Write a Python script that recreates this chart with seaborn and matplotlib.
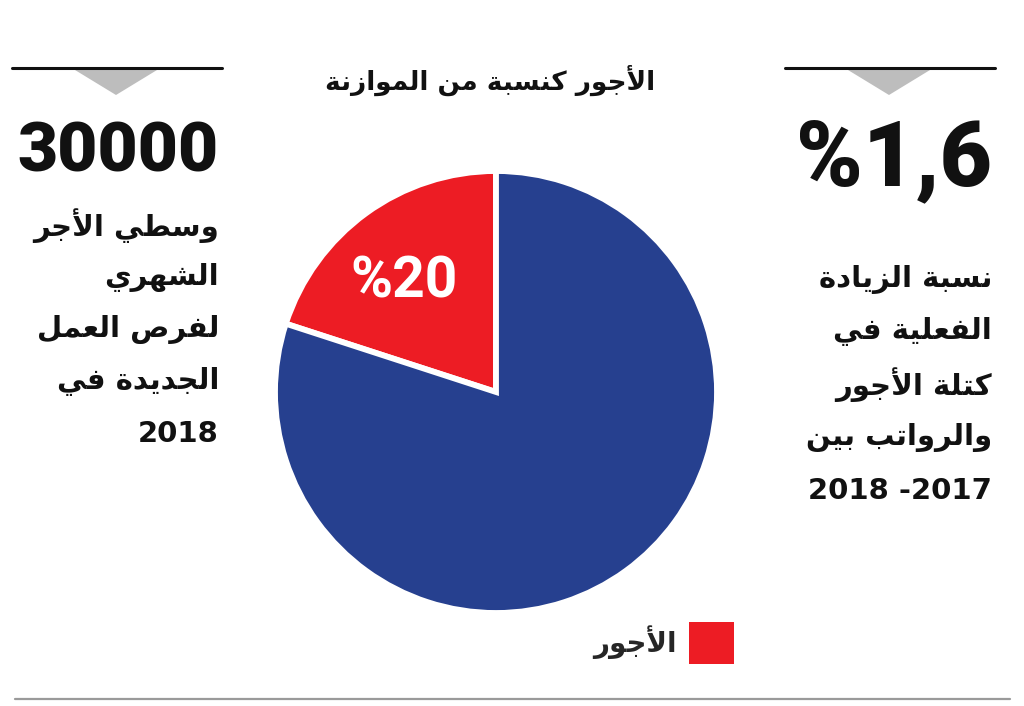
import matplotlib
matplotlib.use("Agg")
import matplotlib.pyplot as plt
import seaborn as sns
from matplotlib.lines import Line2D
from matplotlib.patches import Polygon

# ---------------- data ----------------
slice_labels = ["الأجور", "باقي الموازنة"]
slice_values = [20, 80]
slice_text = "%20"
title_text = "الأجور كنسبة من الموازنة"
left_number = "30000"
left_lines = ["وسطي الأجر", "الشهري", "لفرص العمل", "الجديدة في", "2018"]
right_number = "%1,6"
right_lines = ["نسبة الزيادة", "الفعلية في", "كتلة الأجور", "والرواتب بين", "2018 -2017"]
legend_label = "الأجور"

RED = "#ED1C24"
BLUE = "#26408F"

# ---------------- minimal Arabic shaping (presentation forms + visual order) ----------------
_seq = [("\u0621", 1), ("\u0622", 2), ("\u0623", 2), ("\u0624", 2), ("\u0625", 2),
        ("\u0626", 4), ("\u0627", 2), ("\u0628", 4), ("\u0629", 2), ("\u062A", 4),
        ("\u062B", 4), ("\u062C", 4), ("\u062D", 4), ("\u062E", 4), ("\u062F", 2),
        ("\u0630", 2), ("\u0631", 2), ("\u0632", 2), ("\u0633", 4), ("\u0634", 4),
        ("\u0635", 4), ("\u0636", 4), ("\u0637", 4), ("\u0638", 4), ("\u0639", 4),
        ("\u063A", 4), ("\u0641", 4), ("\u0642", 4), ("\u0643", 4), ("\u0644", 4),
        ("\u0645", 4), ("\u0646", 4), ("\u0647", 4), ("\u0648", 2), ("\u0649", 2),
        ("\u064A", 4)]
FORMS = {}
_c = 0xFE80
for _ch, _n in _seq:
    FORMS[_ch] = [chr(_c + i) for i in range(_n)]
    _c += _n
LAMALEF = {"\u0622": ("\uFEF5", "\uFEF6"), "\u0623": ("\uFEF7", "\uFEF8"),
           "\u0625": ("\uFEF9", "\uFEFA"), "\u0627": ("\uFEFB", "\uFEFC")}


def shape(s):
    if not any(ch in FORMS for ch in s):
        return s
    out = []
    chars = list(s)
    i = 0
    n = len(chars)

    def dual(ch):
        return ch in FORMS and len(FORMS[ch]) == 4

    while i < n:
        ch = chars[i]
        prev = chars[i - 1] if i > 0 else None
        if ch in FORMS:
            jp = prev is not None and dual(prev)
            if ch == "\u0644" and i + 1 < n and chars[i + 1] in LAMALEF:
                out.append(LAMALEF[chars[i + 1]][1 if jp else 0])
                i += 2
                continue
            nxt = chars[i + 1] if i + 1 < n else None
            jn = dual(ch) and nxt is not None and nxt in FORMS
            f = FORMS[ch]
            if jp and jn:
                out.append(f[3])
            elif jp:
                out.append(f[1])
            elif jn:
                out.append(f[2])
            else:
                out.append(f[0])
        else:
            out.append(ch)
        i += 1
    return "".join(reversed(out))


# ---------------- figure ----------------
sns.set_theme(style="white")
plt.rcParams["font.family"] = ["DejaVu Sans"]
W, H = 1024, 706
fig = plt.figure(figsize=(W / 100, H / 100), dpi=100)
fig.patch.set_facecolor("white")


def fx(px):
    return px / W


def fy(py):
    return 1 - py / H


# decorative header lines + triangles
for x0, x1, tx in [(12, 222, 116), (785, 995, 889)]:
    fig.add_artist(Line2D([fx(x0), fx(x1)], [fy(68), fy(68)], color="#111111", lw=2.2))
    fig.add_artist(Polygon([(fx(tx - 41), fy(70)), (fx(tx + 41), fy(70)), (fx(tx), fy(95))],
                           closed=True, color="#BDBDBD", lw=0))
fig.add_artist(Line2D([fx(15), fx(1010)], [fy(699), fy(699)], color="#9A9A9A", lw=1.6))

# pie
cx, cy, R = 496, 392, 221
pad = 1.1
size = 2 * R * pad
ax = fig.add_axes([fx(cx - size / 2), fy(cy + size / 2), size / W, size / H])
palette = sns.color_palette([RED, BLUE])
wedges, _ = ax.pie(slice_values, colors=palette, startangle=90, counterclock=True,
                   radius=1.0, wedgeprops=dict(edgecolor="white", linewidth=4.2))
ax.set_xlim(-pad, pad)
ax.set_ylim(-pad, pad)
ax.set_aspect("equal")
ax.axis("off")

# slice label
fig.text(fx(404), fy(282), slice_text, color="white", fontsize=41, fontweight="bold",
         family=["Roboto", "DejaVu Sans"], ha="center", va="center")

# title
fig.text(fx(490), fy(80), shape(title_text), fontsize=19, fontweight="bold",
         ha="center", va="center", color="#111111")

# left column
fig.text(fx(219), fy(153), left_number, fontsize=50, fontweight="black",
         family=["Roboto", "DejaVu Sans"], ha="right", va="center", color="#111111")
for k, t in enumerate(left_lines):
    fig.text(fx(219), fy(226 + 52 * k), shape(t), fontsize=21, fontweight="bold",
             ha="right", va="center", color="#111111")

# right column
fig.text(fx(992), fy(160), right_number, fontsize=65, fontweight="black",
         family=["Roboto", "DejaVu Sans"], ha="right", va="center", color="#111111")
for k, t in enumerate(right_lines):
    fig.text(fx(992), fy(279 + 53 * k), shape(t), fontsize=21, fontweight="bold",
             ha="right", va="center", color="#111111")

# legend
leg = fig.legend([wedges[0]], [shape(legend_label)], loc="center right",
                 bbox_to_anchor=(fx(753), fy(643)), markerfirst=False, frameon=False,
                 prop=dict(weight="bold", size=20), handlelength=1.6, handleheight=1.9,
                 handletextpad=0.45, borderpad=0.2)
for h in leg.legend_handles:
    h.set_edgecolor(RED)
    h.set_linewidth(0)

fig.savefig("out.png", dpi=100, facecolor="white")
